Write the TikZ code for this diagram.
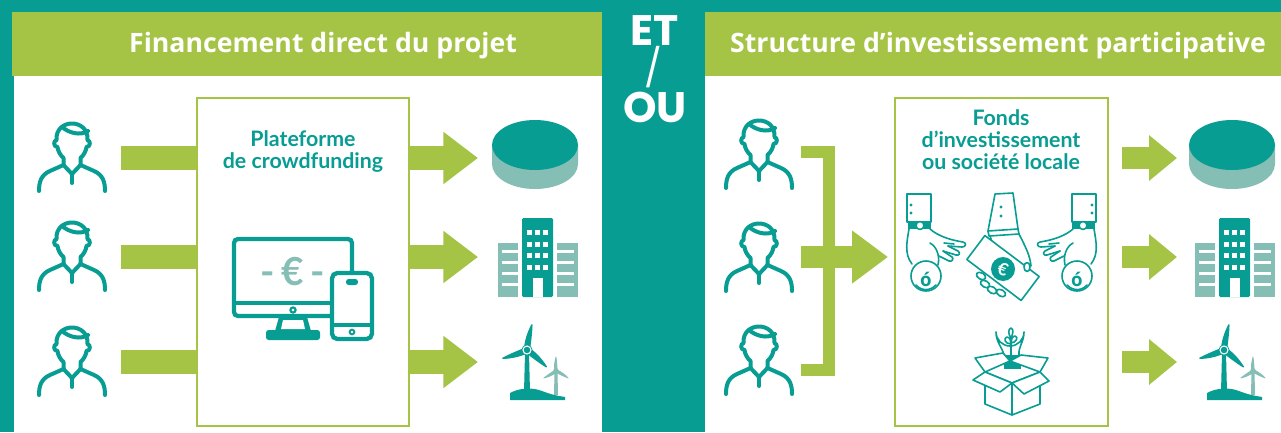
\documentclass[tikz,border=0pt]{standalone}
\usepackage{fontspec}
\newfontfamily\titlefont{Open Sans}
\newfontfamily\boxfont{Lato}
\newfontfamily\etfont{Poppins}
\usetikzlibrary{arrows.meta}
\definecolor{brandteal}{RGB}{8,157,147}
\definecolor{paleteal}{RGB}{132,190,181}
\definecolor{leaf}{RGB}{165,196,70}

\tikzset{
  icon/.style={brandteal,line width=3pt,line cap=round,line join=round},
  thin/.style={brandteal,line width=1.2pt,line cap=round,line join=round},
  framebox/.style={draw=leaf,line width=2pt,fill=white},
  bar/.style={leaf,line width=18pt},
  fatarrow/.style={leaf,line width=18pt,-{Triangle[length=26pt,width=37.5pt]}},
  slimarrow/.style={leaf,line width=17pt,-{Triangle[length=21pt,width=33pt]}},
  titletext/.style={text=white,inner sep=0pt,font=\titlefont\bfseries\fontsize{20}{24}\selectfont},
  ettext/.style={text=white,inner sep=0pt,anchor=base,font=\etfont\bfseries\fontsize{32}{32}\selectfont},
  boxtext/.style={text=brandteal,inner sep=0pt,align=center,font=\boxfont\bfseries\fontsize{16}{16.5}\selectfont},
  person/.pic={
    \draw[icon] (-8.5,8) -- (-8.5,1) .. controls (-12,-2) and (-14,-6) .. (-14.5,-10)
      .. controls (-18.5,-10) and (-19,-16) .. (-15.5,-17)
      .. controls (-17,-39) and (17,-39) .. (15.5,-17)
      .. controls (19,-16) and (18.5,-10) .. (14.5,-10)
      .. controls (14,-6) and (12,-2) .. (8.5,1) -- (8.5,8);
    \draw[icon] (-10,-30) .. controls (-3,-24) and (8,-21) .. (16,-26);
    \draw[icon] (-33,34) .. controls (-33,25) and (-31,18) .. (-22,14) -- (-8.5,8)
      -- (0,17) -- (8.5,8) -- (22,14) .. controls (31,18) and (33,25) .. (33,34);
    \draw[icon] (0,17) -- (0,26);
  },
  disk/.pic={
    \fill[paleteal] (-43,0) -- (-43,19) arc[start angle=180,end angle=0,x radius=43,y radius=25] -- (43,0) -- cycle;
    \fill[brandteal] (0,0) ellipse[x radius=43,y radius=25];
  },
  building/.pic={
    \fill[paleteal] (-24,25) rectangle (-4,79);
    \fill[paleteal] (35,25) rectangle (56,79);
    \fill[brandteal,rounded corners=1pt] (0,0) rectangle (31,79);
    \foreach \cx in {5,13,21} \foreach \ry in {12,24,35,47} \fill[white] (\cx,\ry) rectangle ++(5,5);
    \fill[white] (11,60) rectangle (21,79);
    \foreach \sy in {32,43,54,65} {
      \fill[white] (-20,\sy) rectangle (-4,\sy+3);
      \fill[white] (35,\sy) rectangle (52,\sy+3);
    }
  },
  blade/.pic={
    \fill (0,-3) .. controls (8,-4.5) and (18,-3) .. (26,-0.6) -- (26,0.6) .. controls (18,2) and (8,2.5) .. (0,3) -- cycle;
  },
  turbine/.pic={
    % small turbine behind
    \begin{scope}[shift={(29,21)},paleteal]
      \fill (-1.5,1) -- (1.5,1) -- (2,24) -- (-2,24) -- cycle;
      \foreach \a in {90,210,330} \pic[rotate=\a,scale=0.55,paleteal] {blade};
      \fill (0,0) circle[radius=2.8];
    \end{scope}
    \fill[brandteal] (-2,3) -- (2,3) -- (3,42) -- (-3,42) -- cycle;
    \fill[brandteal] (-17,50) -- (-17,43) .. controls (-8,38) and (5,37) .. (15,41)
      .. controls (25,45) and (32,46) .. (38,47) -- (38,50) -- cycle;
    \foreach \a in {79,199,319} \pic[rotate=\a,brandteal] {blade};
    \fill[brandteal] (0,0) circle[radius=5.5];
    \draw[white,line width=0.8pt] (0,0) circle[radius=4];
  },
  hand/.pic={
    \draw[thin,fill=white] (-19,-82) rectangle (5,-54);
    \fill[brandteal] (-15,-71) circle[radius=1.6] (-15,-63) circle[radius=1.6];
    \fill[brandteal] (-18,-54) rectangle (5,-47);
    \draw[thin,fill=white] (-6,-50.5) circle[radius=4];
    \draw[thin] (-17,-47) .. controls (-19,-35) and (-22,-22) .. (-14,-12);
    \draw[thin] (4,-47) .. controls (12,-40) and (24,-36) .. (37,-34)
      .. controls (41,-33) and (40,-29) .. (36,-29) -- (22,-30);
    \draw[thin] (22,-30) -- (32,-25) .. controls (35,-23) and (33,-20) .. (30,-21) -- (17,-25);
    \draw[thin] (17,-25) -- (26,-19) .. controls (28,-17) and (26,-14) .. (23,-15) -- (13,-20);
    \draw[thin] (28,-32) -- (18,-33);
    \draw[thin] (4,-33) .. controls (11,-29) and (14,-20) .. (12,-11);
    \draw[thin,fill=white] (0,0) circle[radius=15];
    \draw[thin] (-10,9) arc[start angle=140,end angle=40,radius=13];
  },
}

\begin{document}
\begin{tikzpicture}[x=0.75pt,y=-0.75pt]
\useasboundingbox (0,0) rectangle (1281,432);
\fill[brandteal] (0,0) rectangle (1281,432);

% two panels with their header bands
\fill[white] (14,76) rectangle (602,432);
\fill[leaf] (12,12) rectangle (602,76);
\fill[white] (705,76) rectangle (1281,432);
\fill[leaf] (705,12) rectangle (1281,76);

\node[titletext] (titleL) at (323,46) {Financement direct du projet};
\node[titletext] (titleR) at (998,46) {Structure d’investissement participative};

% "ET / OU" between the panels
\node[ettext] (et) at (655,45) {ET};
\node[text=white,inner sep=0pt,font=\etfont\fontsize{28}{28}\selectfont] (slash) at (653,67) {/};
\node[ettext] (ou) at (655,122) {OU};

% ---------- direct financing ----------
\node[framebox,minimum width=212*0.75pt,minimum height=328*0.75pt,inner sep=0pt] (platform) at (303,262) {};
\node[boxtext] (platformtxt) at (303,151) {Plateforme\\de crowdfunding};

\foreach \r/\y in {1/158,2/257,3/362} {
  \pic at (72,\y-1) {person};
  \coordinate (inL\r) at (121,\y);
  \coordinate (boxL\r) at (198,\y);
  \coordinate (outL\r) at (408,\y);
  \coordinate (tipL\r) at (478,\y);
  \draw[bar] (inL\r) -- (boxL\r);
  \draw[fatarrow] (outL\r) -- (tipL\r);
}

% monitor and phone
\draw[brandteal,line width=3.2pt,rounded corners=3pt,fill=white] (234,239) rectangle (352,316);
\draw[brandteal,line width=2.6pt] (234,303) -- (352,303);
\draw[brandteal,line width=1.6pt] (293,310) circle[radius=2.6];
\fill[brandteal] (279,317) -- (307,317) -- (311,331) -- (275,331) -- cycle;
\fill[white] (283,320) -- (303,320) -- (305,329) -- (281,329) -- cycle;
\fill[brandteal,rounded corners=2pt] (266,330) rectangle (320,340);
\node[text=paleteal,inner sep=0pt,font=\boxfont\bfseries\fontsize{29}{30}\selectfont] (euro) at (293,272) {-\hspace{5pt}€\hspace{5pt}-};
\draw[brandteal,line width=3.2pt,rounded corners=4pt,fill=white] (332,273) rectangle (372,339);
\fill[brandteal,rounded corners=2pt] (346,279) rectangle (358,285);
\draw[brandteal,line width=2.4pt] (332,325) -- (372,325);
\draw[brandteal,line width=1.4pt] (352,332) circle[radius=2.4];

% targets
\pic at (535,145) {disk};
\pic at (522,218) {building};
\pic at (527,350) {turbine};

% ---------- participative structure ----------
\node[framebox,minimum width=213*0.75pt,minimum height=328*0.75pt,inner sep=0pt] (fund) at (1001.5,262) {};
\node[boxtext] (fundtxt) at (1001,140) {Fonds\\d’investissement\\ou société locale};

\foreach \r/\y in {1/154,2/257,3/360} \pic at (759,\y) {person};
\coordinate (brTop) at (801,152);
\coordinate (brBot) at (801,370);
\draw[leaf,line width=9pt] (brTop) -- (829,152) -- (829,370) -- (brBot);
\coordinate (midIn) at (801,257);
\coordinate (midTip) at (888,257);
\draw[leaf,line width=17pt,-{Triangle[length=27pt,width=38pt]}] (midIn) -- (midTip);

\foreach \r/\y in {1/158,2/257,3/362} {
  \coordinate (outR\r) at (1122,\y);
  \coordinate (tipR\r) at (1177,\y);
  \draw[slimarrow] (outR\r) -- (tipR\r);
}

\pic at (1232,145) {disk};
\pic at (1219,218) {building};
\pic at (1224,350) {turbine};

% hands passing coins and a note
\pic at (926,276) {hand};
\pic[xscale=-1] at (1077,276) {hand};
\node[text=brandteal,inner sep=0pt,font=\titlefont\bfseries\fontsize{14}{14}\selectfont] (coinL) at (926,279) {ó};
\node[text=brandteal,inner sep=0pt,font=\titlefont\bfseries\fontsize{14}{14}\selectfont] (coinR) at (1077,279) {ó};

\draw[thin,fill=white] (995,194) -- (1013,193) -- (1018,229) -- (988,231) -- cycle;
\fill[brandteal] (1001,207) circle[radius=1.6] (1001,216) circle[radius=1.6];
\draw[thin] (988,231) -- (989,236) -- (1019,234) -- (1018,229);
\draw[thin] (1019,234) .. controls (1025,246) and (1030,255) .. (1031,266);
\draw[thin] (990,236) -- (992,242);
\draw[thin,fill=white,rotate around={-37:(1003,268)}] (969,253) rectangle (1037,283);
\fill[brandteal] (1003,269) circle[radius=12];
\node[text=white,inner sep=0pt,rotate=-20,font=\boxfont\bfseries\fontsize{13}{13}\selectfont] (euroNote) at (1003,269) {€};
\draw[thin,fill=white] (1027,267) ellipse[x radius=3,y radius=4.5];
\foreach \fx/\fy in {981/276,985/284,992/290,1001/293}
  \draw[thin,fill=white,rotate around={-30:(\fx,\fy)}] (\fx,\fy) ellipse[x radius=5,y radius=3.2];

% idea growing out of a box
\draw[thin] (1004,355) .. controls (1002,347) and (996,342) .. (996,332)
  arc[start angle=180,end angle=0,radius=14] .. controls (1024,342) and (1018,347) .. (1019,355);
\fill[brandteal] (1004,355) rectangle (1021,369);
\draw[thin] (1011,355) -- (1011,338);
\draw[thin] (1011,344) .. controls (1005,344) and (1003,338) .. (1007,337) .. controls (1010,337) and (1011,341) .. (1011,344);
\draw[thin] (1011,343) .. controls (1016,343) and (1019,337) .. (1015,336) .. controls (1012,336) and (1011,340) .. (1011,343);
\draw[thin] (1011,338) .. controls (1008,334) and (1008,329) .. (1011,328) .. controls (1014,329) and (1013,334) .. (1011,338);
\draw[thin,fill=white] (985,372) -- (975,358) -- (1003,353) -- (1010,361) -- cycle;
\draw[thin,fill=white] (1040,372) -- (1048,358) -- (1021,355) -- (1010,361) -- cycle;
\draw[thin,fill=white] (985,372) -- (1012,383) -- (1012,415) -- (985,404) -- cycle;
\draw[thin,fill=white] (1012,383) -- (1040,372) -- (1040,404) -- (1012,415) -- cycle;
\draw[thin,fill=white] (985,372) -- (973,380) -- (1000,392) -- (1012,383) -- cycle;
\draw[thin,fill=white] (1012,383) -- (1024,394) -- (1049,381) -- (1040,372) -- cycle;
\end{tikzpicture}
\end{document}
